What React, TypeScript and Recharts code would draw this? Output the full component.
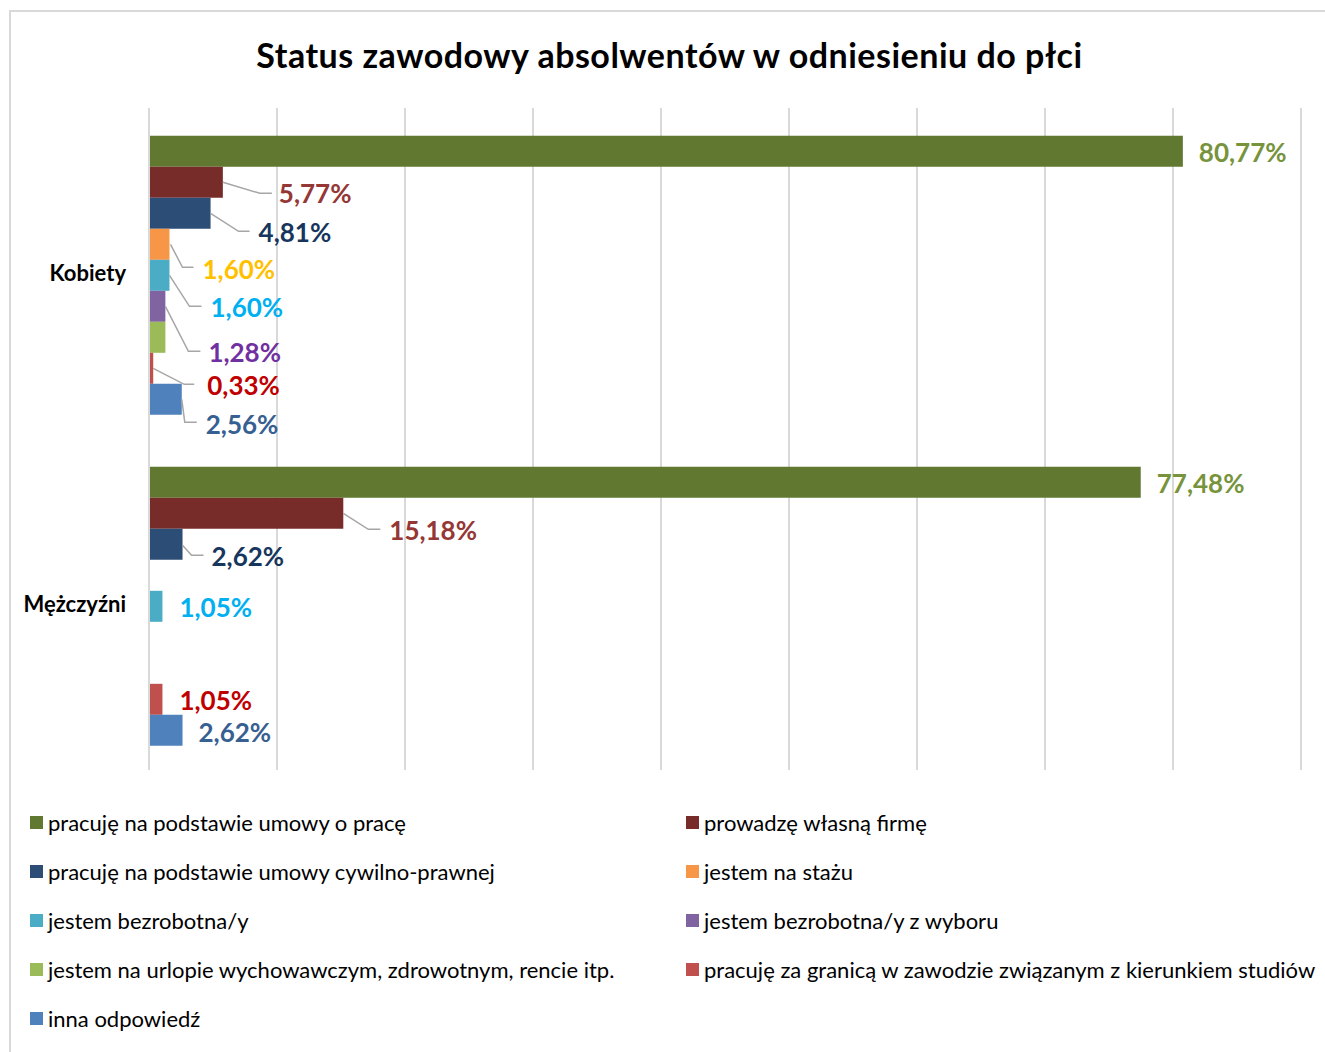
import React from 'react';
import { BarChart, Bar, XAxis, YAxis, CartesianGrid, Legend, LabelList } from 'recharts';

const categories = ['Kobiety', 'Mężczyźni'];
const seriesNames = [
  'pracuję na podstawie umowy o pracę',
  'prowadzę własną firmę',
  'pracuję na podstawie umowy cywilno-prawnej',
  'jestem na stażu',
  'jestem bezrobotna/y',
  'jestem bezrobotna/y z wyboru',
  'jestem na urlopie wychowawczym, zdrowotnym, rencie itp.',
  'pracuję za granicą w zawodzie związanym z kierunkiem studiów',
  'inna odpowiedź',
];
const umowaOPrace = [80.77, 77.48];
const wlasnaFirma = [5.77, 15.18];
const umowaCywilna = [4.81, 2.62];
const staz = [1.6, 0];
const bezrobotna = [1.6, 1.05];
const bezrobotnaZWyboru = [1.28, 0];
const urlop = [1.28, 0];
const zaGranica = [0.33, 1.05];
const inna = [2.56, 2.62];
const xTicks = [0, 10, 20, 30, 40, 50, 60, 70, 80, 90];

const seriesValues = [umowaOPrace, wlasnaFirma, umowaCywilna, staz, bezrobotna, bezrobotnaZWyboru, urlop, zaGranica, inna];
const keys = seriesValues.map((_, i) => 's' + i);
const data = categories.map((c, ci) => {
  const row: any = { category: c };
  seriesValues.forEach((arr, si) => { row[keys[si]] = arr[ci]; });
  return row;
});

const barColors = ['#617831', '#772C2A', '#2C4D75', '#F79646', '#4BACC6', '#8064A2', '#9BBB59', '#C0504D', '#4F81BD'];
const labelColors = ['#77933C', '#953735', '#17365D', '#FFC000', '#00B0F0', '#7030A0', '#77933C', '#C00000', '#376092'];

// label placement relative to bar end / bar centre ; null = no label
type LP = { dx: number; dy: number; pts?: number[][] } | null;
const labelPlacement: LP[][] = [
  [{ dx: 16, dy: 1 }, { dx: 16, dy: 1 }],
  [{ dx: 56, dy: 11, pts: [[0, 0], [37, 11], [49, 11]] }, { dx: 46, dy: 17, pts: [[0, 0], [25, 16], [37, 16]] }],
  [{ dx: 48, dy: 19, pts: [[0, 0], [28, 18], [39, 18]] }, { dx: 29, dy: 12, pts: [[0, 1], [9, 11], [21, 11]] }],
  [{ dx: 33, dy: 25, pts: [[1, 0], [13, 23], [24, 23]] }, null],
  [{ dx: 41, dy: 32, pts: [[0, 0], [20, 31], [32, 31]] }, { dx: 17, dy: 1 }],
  [{ dx: 43, dy: 46, pts: [[0, 0], [23, 45], [35, 45]] }, null],
  [null, null],
  [{ dx: 54, dy: 17, pts: [[0, 0], [31, 16], [41, 16]] }, { dx: 17, dy: 1 }],
  [{ dx: 24, dy: 25, pts: [[0, 0], [3, 23], [15, 23]] }, { dx: 16, dy: 2 }],
];

const fmt = (v: number) => v.toFixed(2).replace('.', ',') + '%';

const makeLabel = (si: number) => (props: any) => {
  const { x, y, width, height, value, index } = props;
  const p = labelPlacement[si][index];
  if (!p || !value) return null;
  const ex = Number(x) + Number(width);
  const cy = Number(y) + Number(height) / 2;
  return (
    <g>
      {p.pts && (
        <polyline
          points={p.pts.map(([a, b]) => `${ex + a},${cy + b}`).join(' ')}
          fill="none"
          stroke="#A6A6A6"
          strokeWidth={1.5}
        />
      )}
      <text
        x={ex + p.dx}
        y={cy + p.dy}
        dominantBaseline="central"
        fill={labelColors[si]}
        fontFamily="Lato, sans-serif"
        fontWeight="bold"
        fontSize={26}
      >
        {fmt(Number(value))}
      </text>
    </g>
  );
};

const LegendContent = () => (
  <div style={{ display: 'grid', gridTemplateColumns: '656px 640px', paddingLeft: 30, fontFamily: 'Lato, sans-serif', fontSize: 22, color: '#000' }}>
    {seriesNames.map((name, i) => (
      <div key={i} style={{ height: 49, display: 'flex', alignItems: 'center', whiteSpace: 'nowrap' }}>
        <span style={{ display: 'inline-block', width: 13, height: 13, background: barColors[i], marginRight: 5, flex: 'none' }} />
        <span>{name}</span>
      </div>
    ))}
  </div>
);

export default function App() {
  return (
    <div style={{ position: 'absolute', left: 0, top: 0, width: 1325, height: 1052, overflow: 'hidden', background: '#fff' }}>
      <div style={{ position: 'absolute', left: 9, top: 10, width: 1400, height: 1200, border: '2px solid #D9D9D9', boxSizing: 'border-box' }} />
      <div style={{ position: 'absolute', left: 0, top: 33, width: 1339, textAlign: 'center', fontFamily: 'Lato, sans-serif', fontWeight: 'bold', fontSize: 34, letterSpacing: 0.5, lineHeight: '44px', color: '#000' }}>
        Status zawodowy absolwentów w odniesieniu do płci
      </div>
      <div style={{ position: 'absolute', left: 0, top: 0 }}>
        <BarChart
          width={1325}
          height={1052}
          data={data}
          layout="vertical"
          margin={{ top: 108, right: 24, bottom: 282, left: 0 }}
          barCategoryGap="8.4%"
          barGap={0}
        >
          <CartesianGrid horizontal={false} vertical={true} stroke="#D9D9D9" strokeWidth={2} />
          <XAxis type="number" domain={[0, 90]} ticks={xTicks} interval={0} hide />
          <YAxis
            type="category"
            dataKey="category"
            width={149}
            axisLine={{ stroke: '#D9D9D9', strokeWidth: 2 }}
            tickLine={false}
            tickSize={0}
            tickMargin={23}
            tick={{ fill: '#000', fontSize: 22, fontWeight: 'bold', fontFamily: 'Lato, sans-serif' }}
          />
          <Legend
            layout="horizontal"
            verticalAlign="middle"
            align="center"
            wrapperStyle={{ left: 0, top: 798, width: 1325 }}
            content={<LegendContent />}
          />
          {keys.map((k, si) => (
            <Bar key={k} dataKey={k} name={seriesNames[si]} fill={barColors[si]} isAnimationActive={false}>
              <LabelList dataKey={k} content={makeLabel(si)} />
            </Bar>
          ))}
        </BarChart>
      </div>
    </div>
  );
}
